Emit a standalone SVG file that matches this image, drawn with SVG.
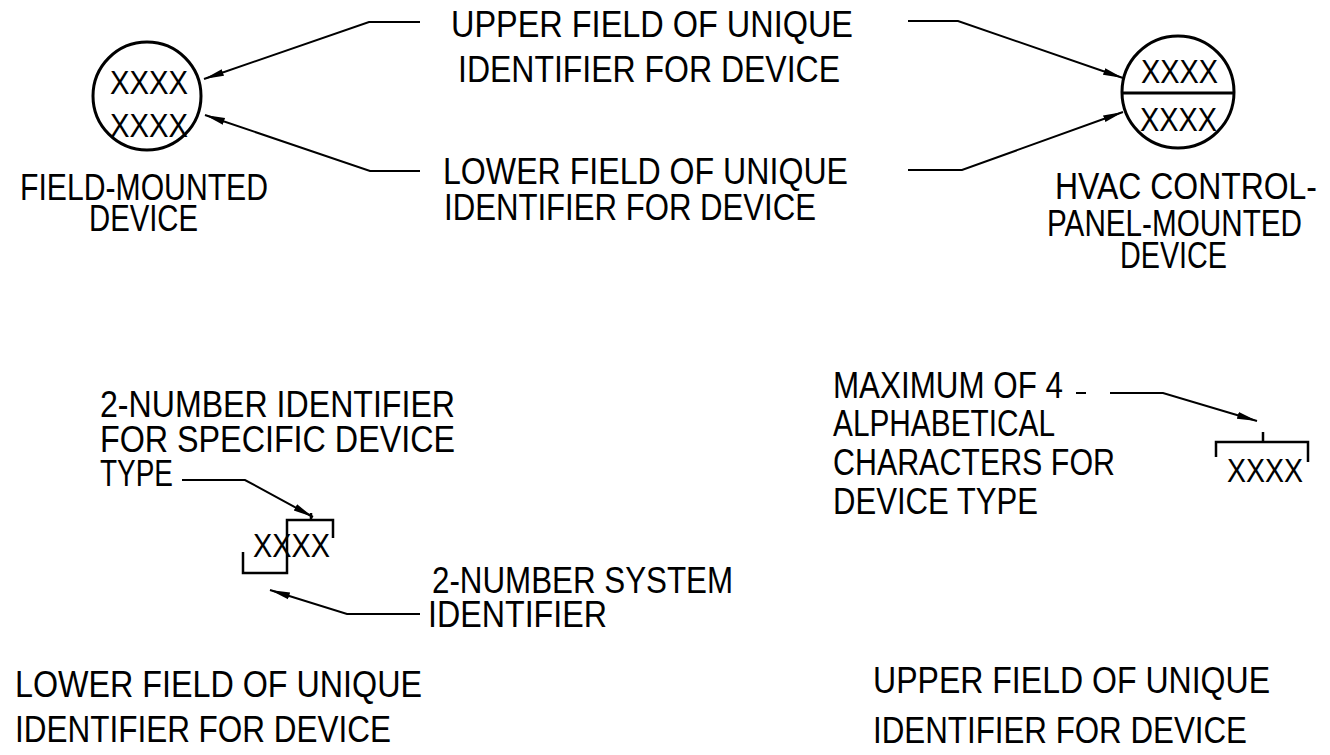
<svg xmlns="http://www.w3.org/2000/svg" width="1330" height="755" viewBox="0 0 1330 755">
<style>
.t{font-family:"Liberation Sans",Arial,sans-serif;font-size:36px;fill:#000}
.x{font-family:"Liberation Sans",Arial,sans-serif;font-size:34px;fill:#000}
.ln{fill:none;stroke:#000;stroke-width:2}
.arr{fill:none;stroke:#000;stroke-width:2;marker-end:url(#ah)}
.sym{fill:none;stroke:#000;stroke-width:3}
.br{fill:none;stroke:#000;stroke-width:2.5}
</style>
<defs>
<marker id="ah" markerUnits="userSpaceOnUse" markerWidth="22" markerHeight="10" refX="20" refY="4" orient="auto">
<path d="M0,0.5 L20,4 L0,7.5 z" fill="#000"/>
</marker>
</defs>
<rect width="1330" height="755" fill="#fff"/>

<g id="connectors">
<path class="arr" d="M420,22 H369 L204,79"/>
<path class="arr" d="M420,171 H370 L205,115"/>
<path class="arr" d="M908,21 H958 L1123,78"/>
<path class="arr" d="M908,170 H962 L1123,112"/>
<path class="arr" d="M182,480 H245 L313,517"/>
<path class="arr" d="M420,614 H347 L270,590"/>
<path class="ln" d="M1076,393 H1086"/>
<path class="arr" d="M1110,393 H1163 L1257,421"/>
</g>

<g id="label-upper-field-top">
<text class="t" x="451" y="37" textLength="402" lengthAdjust="spacingAndGlyphs">UPPER FIELD OF UNIQUE</text>
<text class="t" x="458" y="82" textLength="382" lengthAdjust="spacingAndGlyphs">IDENTIFIER FOR DEVICE</text>
</g>
<g id="label-lower-field-top">
<text class="t" x="443" y="184" textLength="405" lengthAdjust="spacingAndGlyphs">LOWER FIELD OF UNIQUE</text>
<text class="t" x="444" y="220" textLength="372" lengthAdjust="spacingAndGlyphs">IDENTIFIER FOR DEVICE</text>
</g>

<g id="field-mounted-device">
<circle class="sym" cx="147" cy="96" r="54"/>
<text class="x" x="110" y="94" textLength="78" lengthAdjust="spacingAndGlyphs">XXXX</text>
<text class="x" x="110" y="137" textLength="78" lengthAdjust="spacingAndGlyphs">XXXX</text>
<text class="t" x="20" y="200" textLength="248" lengthAdjust="spacingAndGlyphs">FIELD-MOUNTED</text>
<text class="t" x="89" y="231" textLength="109" lengthAdjust="spacingAndGlyphs">DEVICE</text>
</g>

<g id="panel-mounted-device">
<circle class="sym" cx="1178" cy="92" r="56"/>
<line class="sym" x1="1122" y1="93" x2="1234" y2="93"/>
<text class="x" x="1141" y="83" textLength="77" lengthAdjust="spacingAndGlyphs">XXXX</text>
<text class="x" x="1140" y="131" textLength="77" lengthAdjust="spacingAndGlyphs">XXXX</text>
<text class="t" x="1055" y="199" textLength="262" lengthAdjust="spacingAndGlyphs">HVAC CONTROL-</text>
<text class="t" x="1047" y="236" textLength="255" lengthAdjust="spacingAndGlyphs">PANEL-MOUNTED</text>
<text class="t" x="1120" y="268" textLength="107" lengthAdjust="spacingAndGlyphs">DEVICE</text>
</g>

<g id="device-type-number">
<text class="t" x="100" y="417" textLength="355" lengthAdjust="spacingAndGlyphs">2-NUMBER IDENTIFIER</text>
<text class="t" x="100" y="452" textLength="355" lengthAdjust="spacingAndGlyphs">FOR SPECIFIC DEVICE</text>
<text class="t" x="100" y="486" textLength="73" lengthAdjust="spacingAndGlyphs">TYPE</text>
</g>

<g id="lower-field-code">
<path class="br" d="M243,552 V573 H287 V520 H333 V538"/>
<path class="br" d="M311,513 V520"/>
<text class="x" x="253" y="557" textLength="77" lengthAdjust="spacingAndGlyphs">XXXX</text>
</g>

<g id="system-number">
<text class="t" x="432" y="593" textLength="301" lengthAdjust="spacingAndGlyphs">2-NUMBER SYSTEM</text>
<text class="t" x="428" y="627" textLength="179" lengthAdjust="spacingAndGlyphs">IDENTIFIER</text>
</g>

<g id="caption-lower">
<text class="t" x="15" y="697" textLength="407" lengthAdjust="spacingAndGlyphs">LOWER FIELD OF UNIQUE</text>
<text class="t" x="15" y="742" textLength="376" lengthAdjust="spacingAndGlyphs">IDENTIFIER FOR DEVICE</text>
</g>

<g id="alpha-type">
<text class="t" x="833" y="398" textLength="230" lengthAdjust="spacingAndGlyphs">MAXIMUM OF 4</text>
<text class="t" x="833" y="436" textLength="222" lengthAdjust="spacingAndGlyphs">ALPHABETICAL</text>
<text class="t" x="833" y="475" textLength="282" lengthAdjust="spacingAndGlyphs">CHARACTERS FOR</text>
<text class="t" x="833" y="514" textLength="205" lengthAdjust="spacingAndGlyphs">DEVICE TYPE</text>
</g>

<g id="upper-field-code">
<path class="br" d="M1216,457 V442 H1308 V462"/>
<path class="br" d="M1263,432 V442"/>
<text class="x" x="1227" y="482" textLength="76" lengthAdjust="spacingAndGlyphs">XXXX</text>
</g>

<g id="caption-upper">
<text class="t" x="873" y="693" textLength="397" lengthAdjust="spacingAndGlyphs">UPPER FIELD OF UNIQUE</text>
<text class="t" x="873" y="743" textLength="374" lengthAdjust="spacingAndGlyphs">IDENTIFIER FOR DEVICE</text>
</g>
</svg>
